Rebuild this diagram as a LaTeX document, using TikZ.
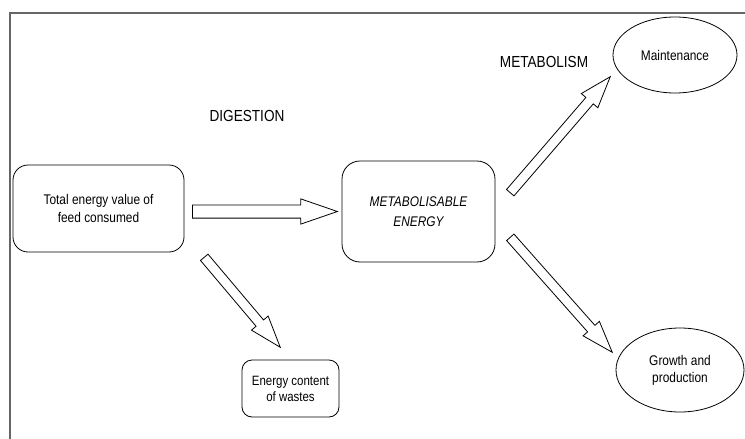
\documentclass[tikz,border=0pt]{standalone}
\usepackage{fontspec}
\setmainfont[FakeStretch=0.85]{Liberation Sans}
\usetikzlibrary{calc,shapes.arrows,shapes.geometric}

\begin{document}
\begin{tikzpicture}[x=1pt,y=-1pt,line width=0.8pt,
    box/.style={draw,rounded corners=15pt,align=center,font=\fontsize{14}{18}\selectfont},
    blob/.style={draw,ellipse,inner sep=0pt,align=center,font=\fontsize{14}{17}\selectfont},
    stage/.style={font=\fontsize{16}{19}\selectfont},
    fat/.style={draw,single arrow,inner xsep=0pt,single arrow head extend=6pt,
      single arrow tip angle=38,anchor=tail}]
  \useasboundingbox (0,0) rectangle (745,439);
  \draw[gray!80!black,line width=1.5pt] (10,439) -- (10,13) -- (745,13);

  \node[box,minimum width=171pt,minimum height=87pt] (feed) at (98.5,208.5)
    {Total energy value of\\feed consumed};
  \node[box,rounded corners=18pt,minimum width=153pt,minimum height=101pt,
    font=\fontsize{14}{20}\selectfont\itshape] (me) at (418.5,211.5)
    {METABOLISABLE\\ENERGY};
  \node[box,rounded corners=10pt,minimum width=97pt,minimum height=57pt,
    font=\fontsize{13.5}{16}\selectfont] (waste) at (290.5,388.5)
    {Energy content\\of wastes};
  \node[blob,minimum width=124pt,minimum height=76pt] (maint) at (675,55) {Maintenance};
  \node[blob,minimum width=128pt,minimum height=84pt] (growth) at (680,370)
    {Growth and\\production};

  \node[stage] (dig) at (247,116) {DIGESTION};
  \node[stage] (metab) at (544,62) {METABOLISM};

  % ends of the block arrows
  \coordinate (t1) at (192,211.5);  \coordinate (h1) at (337,211.5);
  \coordinate (t2) at (204,257);    \coordinate (h2) at (280,347);
  \coordinate (t3) at (510,193);    \coordinate (h3) at (610,77);
  \coordinate (t4) at (510,237);    \coordinate (h4) at (612,352);

  \foreach \a/\b/\s in {t1/h1/6.2,t2/h2/4.5,t3/h3/4.5,t4/h4/4.5}
    \path let \p1=($(\b)-(\a)$), \n1={atan2(\y1,\x1)}, \n2={veclen(\x1,\y1)} in
      (\a) node[fat,inner ysep=\s pt,minimum height=\n2,rotate=\n1] {};
\end{tikzpicture}
\end{document}
